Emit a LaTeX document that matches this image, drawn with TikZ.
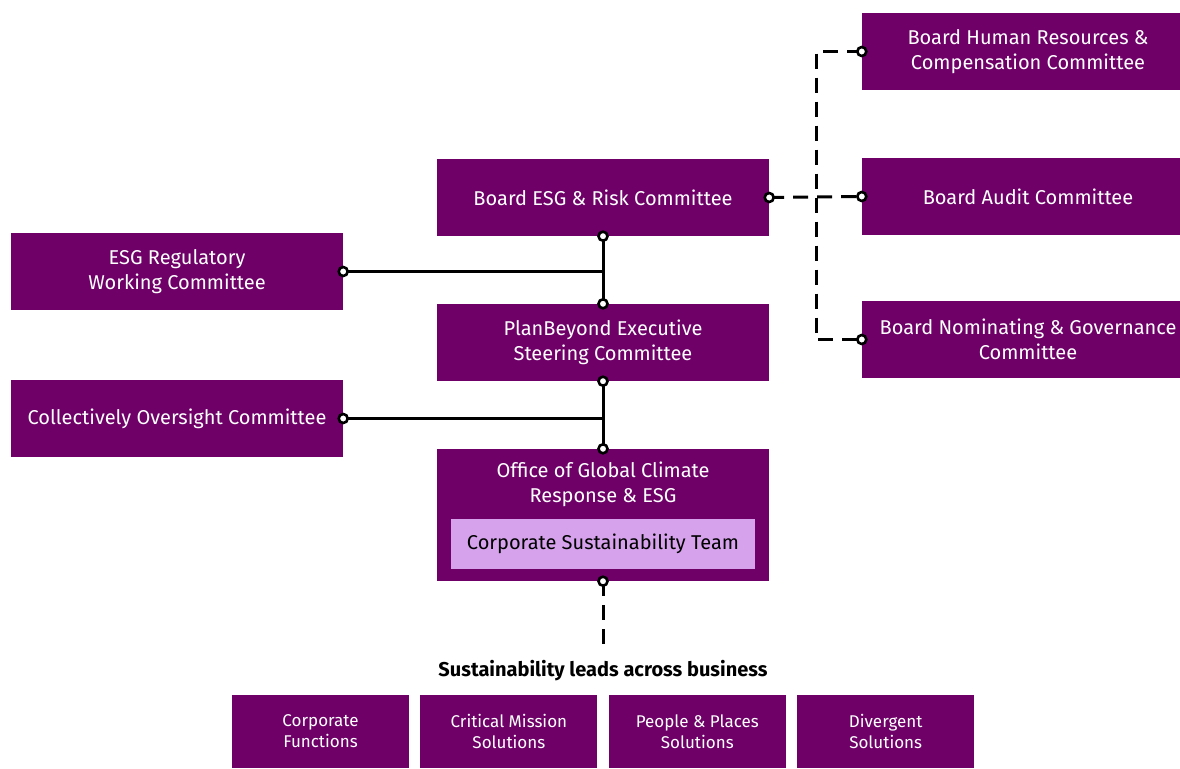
\documentclass[tikz,border=0pt]{standalone}
\usepackage{fontspec}
\setmainfont{Fira Sans}
\usepackage{xcolor}
\usetikzlibrary{calc,positioning}
\definecolor{plum}{HTML}{6E0068}
\definecolor{lilac}{HTML}{D6A2EC}
\tikzset{
  board/.style={fill=plum, text=white, align=center, inner sep=0pt, minimum width=332, minimum height=77, font=\fontsize{20}{25}\selectfont},
  unit/.style={board, minimum width=177, minimum height=73, font=\fontsize{17}{21}\selectfont},
  link/.style={line width=3pt},
  dashlink/.style={line width=3pt, dash pattern=on 15pt off 9pt},
  port/.style={draw, fill=white, line width=2.6pt}
}

\begin{document}
\begin{tikzpicture}[x=1pt, y=-1pt]
    \useasboundingbox [fill=white] (0,0) rectangle (1180,768);

    \node [board] (esg) at (603, 197.5) {Board ESG \& Risk Committee};
    \node [board] (plan) at (603, 342.5) {PlanBeyond Executive\\Steering Committee};
    \node [board, minimum height=132] (office) at (603, 515) {};
    \node [text=white, align=center, font=\fontsize{20}{25}\selectfont] (officetxt) at (603, 484) {Office of Global Climate\\Response \& ESG};
    \node [fill=lilac, minimum width=304, minimum height=50, inner sep=0pt, font=\fontsize{20}{25}\selectfont] (team) at (603, 544) {Corporate Sustainability Team};

    \node [board] (reg) at (177, 271.5) {ESG Regulatory\\Working Committee};
    \node [board] (oversight) at (177, 418.5) {Collectively Oversight Committee};

    \node [board] (hr) at (1028, 51.5) {Board Human Resources \&\\Compensation Committee};
    \node [board] (audit) at (1028, 196.5) {Board Audit Committee};
    \node [board] (nom) at (1028, 339.5) {Board Nominating \& Governance\\Committee};

    \node [font=\bfseries\fontsize{20}{24}\selectfont] (leads) at (603, 671) {Sustainability leads across business};
    \node [unit] (corp) at (320.5, 731.5) {Corporate\\Functions};
    \node [unit, right=11 of corp] (mission) {Critical Mission\\Solutions};
    \node [unit, right=11 of mission] (people) {People \& Places\\Solutions};
    \node [unit, right=11 of people] (divergent) {Divergent\\Solutions};

    \coordinate (bus) at (816, 0); % dashed spine
    \coordinate (leadsend) at (603, 650);

    % solid reporting lines
    \draw [link] (esg.south) -- (plan.north);
    \draw [link] (reg.east) -- (reg.east -| esg.south);
    \draw [link] (plan.south) -- (office.north);
    \draw [link] (oversight.east) -- (oversight.east -| plan.south);

    % dashed lines
    \draw [dashlink] (esg.east) -- (audit.west);
    \draw [dashlink] (hr.west) -- (hr.west -| bus) -- (nom.west -| bus) -- (nom.west);
    \draw [dashlink] (office.south) -- (leadsend);

    % open ports
    \foreach \p in {esg.south, esg.east, plan.north, plan.south, office.north, office.south, reg.east, oversight.east, hr.west, audit.west, nom.west}
        \draw [port] (\p) circle (4.5);
\end{tikzpicture}
\end{document}
